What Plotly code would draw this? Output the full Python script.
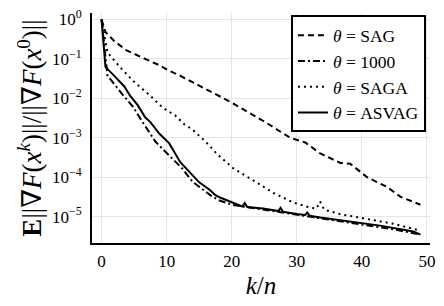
import plotly.graph_objects as go

# ---- data ----
sag_x = [0, 0.6, 2, 3.7, 6.7, 8.9, 10.4, 12, 15, 16.7, 20, 24.8, 29, 31.3, 33.6,
         36.7, 38.2, 40.8, 43.9, 45.9, 47.9, 49]
sag_y = [1, 0.48, 0.28, 0.17, 0.10, 0.069, 0.050, 0.038, 0.021, 0.015, 7.8e-3,
         2.7e-3, 1.0e-3, 7.6e-4, 4.0e-4, 2.3e-4, 2.2e-4, 1.0e-4, 5.6e-5, 3.2e-5,
         2.4e-5, 2.0e-5]

t1000_x = [0, 0.9, 3.2, 4.8, 6.3, 8.3, 9.7, 11.2, 12.4, 14, 15.5, 16.7, 18, 20,
           25, 30, 35, 40, 45, 49]
t1000_y = [1, 0.038, 0.0126, 6.2e-3, 2.5e-3, 7.9e-4, 4.6e-4, 2.6e-4, 1.66e-4,
           7.6e-5, 5.0e-5, 3.5e-5, 2.6e-5, 2.0e-5, 1.5e-5, 1.12e-5, 8.7e-6,
           6.5e-6, 4.7e-6, 3.5e-6]

saga_x = [0, 0.9, 2.8, 4.8, 7.4, 9.4, 11.3, 12.7, 14, 16, 17.8, 20.2, 23.3, 26.4,
          29.4, 32, 33, 33.6, 34.2, 36.7, 40.8, 44.8, 49]
saga_y = [1, 0.145, 0.063, 0.028, 0.012, 5.8e-3, 3.7e-3, 2.2e-3, 1.6e-3, 7.9e-4,
          3.8e-4, 1.7e-4, 8.3e-5, 4.0e-5, 2.3e-5, 1.7e-5, 1.6e-5, 2.4e-5, 1.5e-5,
          1.15e-5, 8.7e-6, 6.6e-6, 4.4e-6]

asvag_x = [0, 0.6, 2.1, 3.5, 4.4, 5.5, 6.7, 7.5, 8.9, 10.4, 12.1, 13.5, 15, 16.6,
           17.5, 18.3, 20.2, 21.6, 22, 22.4, 24.8, 27.2, 27.5, 27.9, 30, 31.3,
           31.6, 32, 33.6, 37.7, 42.8, 47.9, 49]
asvag_y = [1, 0.063, 0.035, 0.020, 0.0115, 6.9e-3, 3.3e-3, 2.5e-3, 1.26e-3,
           7.2e-4, 2.4e-4, 1.4e-4, 7.4e-5, 4.8e-5, 3.5e-5, 3.0e-5, 2.2e-5,
           1.8e-5, 2.2e-5, 1.74e-5, 1.6e-5, 1.38e-5, 1.66e-5, 1.32e-5, 1.17e-5,
           1.10e-5, 1.26e-5, 1.05e-5, 9.5e-6, 7.8e-6, 5.9e-6, 4.2e-6, 3.5e-6]

x_ticks = [0, 10, 20, 30, 40, 50]
y_ticks = [1, 1e-1, 1e-2, 1e-3, 1e-4, 1e-5]
y_ticktext = ["10<sup>0</sup>", "10<sup>\u22121</sup>", "10<sup>\u22122</sup>",
              "10<sup>\u22123</sup>", "10<sup>\u22124</sup>", "10<sup>\u22125</sup>"]

FONT = "Liberation Serif, DejaVu Serif, serif"

fig = go.Figure()
series = [
    (sag_x, sag_y, "<i>\u03b8</i> = SAG", "6px,4px"),
    (t1000_x, t1000_y, "<i>\u03b8</i> = 1000", "7px,3px,2px,3px"),
    (saga_x, saga_y, "<i>\u03b8</i> = SAGA", "2px,4px"),
    (asvag_x, asvag_y, "<i>\u03b8</i> = ASVAG", "solid"),
]
for xs, ys, name, dash in series:
    fig.add_trace(go.Scatter(x=xs, y=ys, mode="lines", name=name,
                             line=dict(color="black", width=2, dash=dash)))

fig.update_layout(
    width=444, height=306,
    margin=dict(l=92, r=14, t=7, b=63),
    paper_bgcolor="white", plot_bgcolor="white",
    font=dict(family=FONT, size=17, color="black"),
    legend=dict(x=0.988, y=0.99, xanchor="right", yanchor="top",
                bordercolor="black", borderwidth=2, bgcolor="white",
                font=dict(family=FONT, size=17.5), itemwidth=30, tracegroupgap=0),
    showlegend=True,
)
fig.update_xaxes(
    range=[-1.47, 50.47], tickvals=x_ticks, showgrid=True, gridcolor="#e5e5e5",
    gridwidth=1, showline=True, linecolor="black", linewidth=2, zeroline=False,
    ticks="", tickfont=dict(family=FONT, size=17), ticklabelstandoff=2,
    title=dict(text="<i>k</i>/<i>n</i>", font=dict(family=FONT, size=25), standoff=6),
)
fig.update_yaxes(
    type="log", range=[-5.67, 0.165], tickvals=y_ticks, ticktext=y_ticktext,
    showgrid=True, gridcolor="#e5e5e5", gridwidth=1, showline=True,
    linecolor="black", linewidth=2, zeroline=False, ticks="",
    tickfont=dict(family=FONT, size=17), ticklabelstandoff=5,
    title=dict(text="<b>E</b>||\u2207<i>F</i>(<i>x</i><sup><i>k</i></sup>)||/||\u2207<i>F</i>(<i>x</i><sup>0</sup>)||",
               font=dict(family=FONT, size=27), standoff=2),
)

fig.write_html("out.html")
